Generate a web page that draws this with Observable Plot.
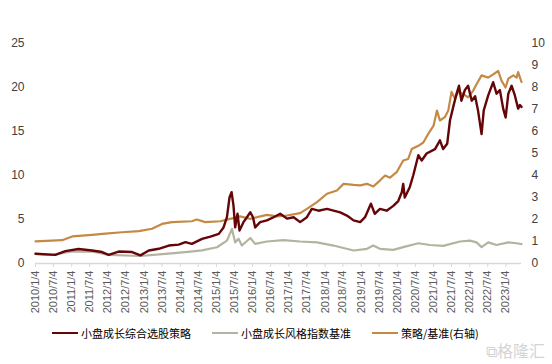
<!DOCTYPE html>
<html><head><meta charset="utf-8">
<script src="https://cdn.jsdelivr.net/npm/d3@7"></script>
<script src="https://cdn.jsdelivr.net/npm/@observablehq/plot@0.6"></script>
<style>
body{margin:0;background:#fff;font-family:"Liberation Sans",Arial,sans-serif;}
#wrap{position:relative;width:552px;height:364px;}
#legend{position:absolute;top:325px;left:0;width:552px;font-family:"Noto Sans CJK SC",sans-serif;font-size:11px;color:#000;}
.li{position:absolute;top:0;display:flex;align-items:center;height:16px;}
.sw{display:inline-block;width:26px;height:2px;margin-right:3px;}
#wm{position:absolute;left:486px;top:338px;font-family:"Noto Sans CJK SC",sans-serif;font-size:16px;color:#d4d4d4;}
</style></head>
<body><div id="wrap"><div id="chart"></div>
<div id="legend"></div><div id="wm">⧉格隆汇</div></div>
<script>
// Series: 小盘成长综合选股策略 (left axis)
const strategyDates = ["2010-01-04","2010-07-23","2010-11-01","2011-03-14","2011-07-28","2011-11-07","2012-01-13","2012-04-22","2012-09-05","2012-11-28","2013-02-21","2013-06-01","2013-09-10","2013-12-19","2014-02-25","2014-05-01","2014-08-12","2014-11-04","2015-01-28","2015-03-17","2015-04-20","2015-05-16","2015-06-06","2015-06-25","2015-07-12","2015-08-05","2015-08-25","2015-10-04","2015-11-08","2015-12-12","2016-01-08","2016-01-30","2016-03-20","2016-05-27","2016-08-03","2016-10-09","2016-12-16","2017-02-21","2017-04-28","2017-07-05","2017-08-24","2017-10-30","2018-01-24","2018-03-31","2018-06-06","2018-08-13","2018-10-19","2018-12-25","2019-02-12","2019-04-12","2019-05-21","2019-07-12","2019-09-18","2019-11-24","2020-01-13","2020-02-18","2020-03-03","2020-03-19","2020-05-09","2020-06-12","2020-08-03","2020-09-06","2020-10-25","2021-01-18","2021-03-09","2021-04-10","2021-05-21","2021-06-18","2021-07-21","2021-08-24","2021-09-17","2021-10-12","2021-11-15","2021-12-18","2022-01-24","2022-02-27","2022-03-28","2022-05-03","2022-05-25","2022-07-09","2022-08-28","2022-10-01","2022-11-04","2022-12-07","2023-01-01","2023-01-28","2023-03-02","2023-04-04","2023-05-07","2023-05-25","2023-06-10"];
const strategyValues = [1.1,0.98,1.4,1.65,1.48,1.3,0.98,1.36,1.3,0.92,1.48,1.67,2.04,2.15,2.42,2.23,2.8,3.06,3.37,4.1,5.26,7.5,8.1,6.6,4.1,5.65,3.75,4.7,5.26,5.83,5.26,4.1,4.7,4.9,5.26,5.65,5.1,5.26,4.7,5.26,6.2,6.0,6.2,6.0,5.8,5.45,4.9,4.7,5.26,6.8,5.65,6.2,6.0,6.55,7.1,8.1,9.05,7.5,8.7,10.0,12.3,11.7,12.5,13.0,14.0,13.0,13.6,16.25,17.8,19.3,20.2,18.5,19.7,20.2,18.5,19.0,17.4,14.7,17.4,19.1,20.6,19.3,19.7,17.6,16.6,19.3,20.2,19.1,17.6,18.0,17.8];
// Series: 小盘成长风格指数基准 (left axis)
const benchmarkDates = ["2010-01-04","2010-06-20","2011-01-10","2011-07-28","2012-01-13","2012-11-28","2013-08-06","2014-02-25","2014-08-10","2015-01-10","2015-04-20","2015-06-10","2015-07-12","2015-08-15","2015-09-18","2015-12-12","2016-01-30","2016-05-27","2016-11-12","2017-04-28","2017-10-15","2018-03-31","2018-10-19","2019-03-04","2019-05-06","2019-07-12","2019-11-24","2020-03-03","2020-08-03","2020-11-28","2021-04-10","2021-09-27","2022-01-06","2022-03-13","2022-05-03","2022-07-09","2022-10-01","2023-01-28","2023-04-22","2023-06-10"];
const benchmarkValues = [1.1,0.98,1.36,1.36,0.98,0.85,1.1,1.3,1.5,1.85,2.6,3.94,2.4,2.8,2.04,2.9,2.23,2.5,2.65,2.5,2.4,2.04,1.48,1.67,2.04,1.67,1.55,1.86,2.3,2.1,2.0,2.5,2.6,2.4,1.86,2.4,2.1,2.4,2.3,2.2];
// Series: 策略/基准 (right axis)
const ratioDates = ["2010-01-04","2010-09-30","2011-01-10","2011-07-28","2011-12-10","2012-05-25","2012-11-12","2013-03-25","2013-07-04","2013-10-13","2014-05-01","2014-06-20","2014-09-14","2015-02-12","2015-05-22","2015-08-31","2015-12-12","2016-05-27","2016-09-06","2016-12-16","2017-04-28","2017-07-05","2017-10-15","2018-01-24","2018-05-04","2018-07-10","2018-10-19","2018-12-25","2019-03-04","2019-05-06","2019-07-12","2019-09-02","2019-10-22","2019-12-28","2020-03-03","2020-04-22","2020-05-28","2020-08-03","2020-09-22","2020-11-12","2021-01-04","2021-02-07","2021-03-09","2021-04-27","2021-06-01","2021-07-04","2021-08-07","2021-09-10","2021-10-31","2021-12-18","2022-02-08","2022-03-13","2022-05-03","2022-07-09","2022-08-28","2022-10-18","2022-11-21","2022-12-31","2023-01-28","2023-03-19","2023-04-22","2023-05-07","2023-06-10"];
const ratioValues = [1.01,1.06,1.23,1.3,1.36,1.42,1.47,1.58,1.8,1.88,1.92,2.0,1.88,1.92,2.03,2.14,2.03,2.21,2.14,2.18,2.29,2.48,2.79,3.17,3.32,3.62,3.57,3.55,3.62,3.5,3.77,4.0,3.9,4.15,4.68,4.75,5.2,5.35,5.5,5.9,6.27,6.95,6.5,6.65,6.95,7.8,7.5,7.8,7.7,7.55,7.86,8.15,8.55,8.45,8.6,8.75,8.3,8.0,8.4,8.55,8.45,8.7,8.25];
// Axis ticks
const leftTicks = [0,5,10,15,20,25];
const rightTicks = [0,1,2,3,4,5,6,7,8,9,10];
const xTickLabels = ["2010/1/4","2010/7/4","2011/1/4","2011/7/4","2012/1/4","2012/7/4","2013/1/4","2013/7/4","2014/1/4","2014/7/4","2015/1/4","2015/7/4","2016/1/4","2016/7/4","2017/1/4","2017/7/4","2018/1/4","2018/7/4","2019/1/4","2019/7/4","2020/1/4","2020/7/4","2021/1/4","2021/7/4","2022/1/4","2022/7/4","2023/1/4"];
const seriesNames = ["小盘成长综合选股策略","小盘成长风格指数基准","策略/基准(右轴)"];
const colors = ["#650508","#B3B3A0","#C48A45"];

const scale = 2.5; // left max 25 / right max 10
const parse = s => new Date(s + "T00:00:00Z");
const mk = (ds, vs, k) => ds.map((d, i) => ({date: parse(d), v: vs[i] * k}));
const sData = mk(strategyDates, strategyValues, 1);
const bData = mk(benchmarkDates, benchmarkValues, 1);
const rData = mk(ratioDates, ratioValues, scale);
const xTicks = xTickLabels.map(t => { const [y,m,d] = t.split("/").map(Number); return new Date(Date.UTC(y, m-1, d)); });
const fmt = d => `${d.getUTCFullYear()}/${d.getUTCMonth()+1}/${d.getUTCDate()}`;

const chart = Plot.plot({
  width: 552, height: 325,
  marginLeft: 35, marginRight: 31, marginTop: 43, marginBottom: 62,
  style: {fontFamily: '"Liberation Sans", Arial, sans-serif', fontSize: "12px", color: "#595959", background: "#fff"},
  x: {type: "utc", domain: [parse("2010-01-04"), parse("2023-06-10")]},
  y: {domain: [0, 25]},
  marks: [
    Plot.ruleY([0], {stroke: "#d9d9d9", strokeWidth: 1.5}),
    Plot.axisX({ticks: xTicks, tickFormat: fmt, tickRotate: -90, tickSize: 4, stroke: "#d9d9d9", tickPadding: 3, fontSize: 11, fill: "#595959", label: null}),
    Plot.axisY({ticks: leftTicks, tickSize: 0, tickPadding: 11, fontSize: 12, fill: "#404040", label: null}),
    Plot.axisY({anchor: "right", ticks: rightTicks.map(t => t * scale), tickFormat: d => Math.round(d / scale), tickSize: 0, tickPadding: 10, fontSize: 12, fill: "#404040", label: null}),
    Plot.line(bData, {x: "date", y: "v", stroke: colors[1], strokeWidth: 2.2}),
    Plot.line(rData, {x: "date", y: "v", stroke: colors[2], strokeWidth: 2.2}),
    Plot.line(sData, {x: "date", y: "v", stroke: colors[0], strokeWidth: 2.4})
  ]
});
document.getElementById("chart").appendChild(chart);

const legendPos = [52, 212, 372];
const lg = document.getElementById("legend");
seriesNames.forEach((n, i) => {
  const el = document.createElement("div");
  el.className = "li";
  el.style.left = legendPos[i] + "px";
  el.innerHTML = `<span class="sw" style="background:${colors[i]}"></span><span>${n}</span>`;
  lg.appendChild(el);
});
</script></body></html>
